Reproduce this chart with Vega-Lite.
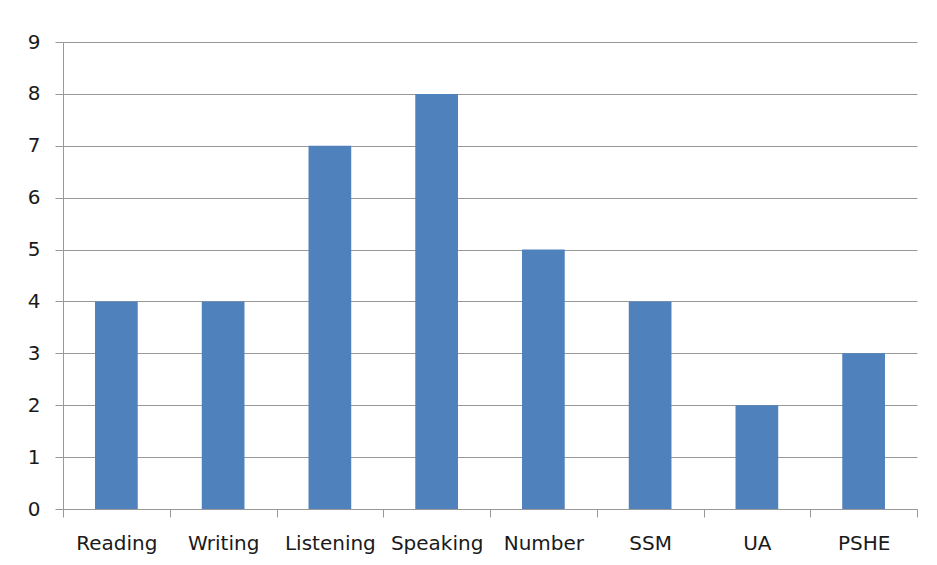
{
  "$schema": "https://vega.github.io/schema/vega-lite/v6.json",
  "width": 854,
  "height": 467,
  "autosize": {"type": "none"},
  "padding": {"left": 63, "top": 42, "right": 20, "bottom": 56},
  "background": "white",
  "data": {"values": [
    {"subject": "Reading", "count": 4},
    {"subject": "Writing", "count": 4},
    {"subject": "Listening", "count": 7},
    {"subject": "Speaking", "count": 8},
    {"subject": "Number", "count": 5},
    {"subject": "SSM", "count": 4},
    {"subject": "UA", "count": 2},
    {"subject": "PSHE", "count": 3}
  ]},
  "mark": {"type": "bar", "color": "#4F81BD", "width": {"band": 0.4}},
  "encoding": {
    "x": {
      "field": "subject", "type": "nominal", "sort": null,
      "scale": {"paddingInner": 0, "paddingOuter": 0},
      "axis": {
        "title": null, "labelAngle": 0, "labelFont": "DejaVu Sans", "labelFontSize": 20,
        "labelColor": "#1a1a1a", "labelPadding": 16, "tickSize": 8, "tickColor": "#989898",
        "domainColor": "#989898", "tickBand": "extent", "ticks": true, "grid": false
      }
    },
    "y": {
      "field": "count", "type": "quantitative",
      "scale": {"domain": [0, 9], "nice": false},
      "axis": {
        "title": null, "values": [0,1,2,3,4,5,6,7,8,9], "labelFont": "DejaVu Sans",
        "labelFontSize": 20, "labelColor": "#1a1a1a", "labelPadding": 15, "tickSize": 8,
        "tickColor": "#989898", "domainColor": "#989898", "gridColor": "#989898", "grid": true
      }
    }
  },
  "config": {"view": {"stroke": null}}
}
